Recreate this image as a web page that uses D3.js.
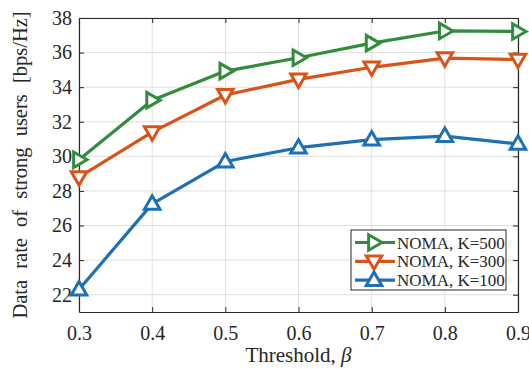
<!DOCTYPE html>
<html>
<head>
<meta charset="utf-8">
<script src="https://cdn.jsdelivr.net/npm/d3@7"></script>
<style>
  body { margin: 0; background: #fff; }
  text { font-family: "Liberation Serif", "DejaVu Serif", serif; fill: #262626; }
</style>
</head>
<body>
<div id="chart"></div>
<script>
const width = 529;
const height = 369;
const margin = { top: 18, right: 11, bottom: 57, left: 79 };

const thresholds = [0.3, 0.4, 0.5, 0.6, 0.7, 0.8, 0.9];
const rateK500 = [29.8, 33.25, 34.93, 35.7, 36.55, 37.25, 37.22];
const rateK300 = [28.8, 31.4, 33.55, 34.45, 35.15, 35.68, 35.6];
const rateK100 = [22.3, 27.25, 29.7, 30.5, 30.97, 31.17, 30.72];
const xTicks = [0.3, 0.4, 0.5, 0.6, 0.7, 0.8, 0.9];
const yTicks = [22, 24, 26, 28, 30, 32, 34, 36, 38];

const series = [
  { name: "NOMA, K=500", values: rateK500, color: "#318c3c", marker: "right" },
  { name: "NOMA, K=300", values: rateK300, color: "#d95319", marker: "down" },
  { name: "NOMA, K=100", values: rateK100, color: "#1f6fb4", marker: "up" },
];

const svg = d3.select("#chart").append("svg")
  .attr("width", width).attr("height", height);

const x = d3.scaleLinear().domain([0.3, 0.9])
  .range([margin.left, width - margin.right]);
const y = d3.scaleLinear().domain([21, 38])
  .range([height - margin.bottom, margin.top]);

// grid
svg.append("g").selectAll("line").data(xTicks).join("line")
  .attr("x1", d => x(d)).attr("x2", d => x(d))
  .attr("y1", y(21)).attr("y2", y(38))
  .attr("stroke", "#dfdfdf").attr("stroke-width", 1);
svg.append("g").selectAll("line").data(yTicks).join("line")
  .attr("x1", x(0.3)).attr("x2", x(0.9))
  .attr("y1", d => y(d)).attr("y2", d => y(d))
  .attr("stroke", "#dfdfdf").attr("stroke-width", 1);

// axes with inward ticks on all sides
const tick = 5;
const fmt = d3.format(".1f");
const axB = svg.append("g").attr("transform", `translate(0,${y(21)})`)
  .call(d3.axisBottom(x).tickValues(xTicks).tickFormat(fmt).tickSizeInner(-tick).tickSizeOuter(0).tickPadding(14));
const axT = svg.append("g").attr("transform", `translate(0,${y(38)})`)
  .call(d3.axisTop(x).tickValues(xTicks).tickFormat("").tickSizeInner(-tick).tickSizeOuter(0));
const axL = svg.append("g").attr("transform", `translate(${x(0.3)},0)`)
  .call(d3.axisLeft(y).tickValues(yTicks).tickSizeInner(-tick).tickSizeOuter(0).tickPadding(7));
const axR = svg.append("g").attr("transform", `translate(${x(0.9)},0)`)
  .call(d3.axisRight(y).tickValues(yTicks).tickFormat("").tickSizeInner(-tick).tickSizeOuter(0));
[axB, axT, axL, axR].forEach(a => {
  a.select(".domain").attr("stroke", "#262626").attr("stroke-width", 1.2);
  a.selectAll(".tick line").attr("stroke", "#262626").attr("stroke-width", 1);
  a.selectAll("text").style("font-size", "20px").attr("fill", "#262626")
    .style("font-family", "Liberation Serif, serif");
});

// marker shapes
function tri(dir, s) {
  const h = s * 0.866;
  if (dir === "up") return `M0,${-h * 0.6}L${s / 2},${h * 0.4}L${-s / 2},${h * 0.4}Z`;
  if (dir === "down") return `M0,${h * 0.6}L${s / 2},${-h * 0.4}L${-s / 2},${-h * 0.4}Z`;
  return `M${h * 0.6},0L${-h * 0.4},${s / 2}L${-h * 0.4},${-s / 2}Z`;
}

const line = d3.line().x((d, i) => x(thresholds[i])).y(d => y(d));

series.forEach(s => {
  svg.append("path").datum(s.values)
    .attr("d", line).attr("fill", "none")
    .attr("stroke", s.color).attr("stroke-width", 3.2).attr("stroke-linejoin", "round");
  svg.append("g").selectAll("path").data(s.values).join("path")
    .attr("transform", (d, i) => `translate(${x(thresholds[i])},${y(d)})`)
    .attr("d", tri(s.marker, 15.5))
    .attr("fill", "#fff").attr("stroke", s.color).attr("stroke-width", 3)
    .attr("stroke-linejoin", "miter");
});

// legend
const lg = svg.append("g").attr("transform", "translate(351,230)");
lg.append("rect").attr("width", 155).attr("height", 60)
  .attr("fill", "#fff").attr("stroke", "#262626").attr("stroke-width", 1);
series.forEach((s, i) => {
  const ry = 12.5 + i * 18.8;
  lg.append("line").attr("x1", 4).attr("x2", 44).attr("y1", ry).attr("y2", ry)
    .attr("stroke", s.color).attr("stroke-width", 3.2);
  lg.append("path").attr("transform", `translate(23,${ry})`)
    .attr("d", tri(s.marker, 15.5))
    .attr("fill", "#fff").attr("stroke", s.color).attr("stroke-width", 3);
  lg.append("text").attr("x", 46).attr("y", ry + 6)
    .style("font-size", "17px").text(s.name);
});

// axis labels
svg.append("text")
  .attr("x", (x(0.3) + x(0.9)) / 2).attr("y", 362)
  .attr("text-anchor", "middle").style("font-size", "21px")
  .html('Threshold, <tspan font-style="italic">β</tspan>');

svg.append("text")
  .attr("transform", `translate(27,${(y(21) + y(38)) / 2}) rotate(-90)`)
  .attr("text-anchor", "middle").style("font-size", "20.5px")
  .style("word-spacing", "6px")
  .text("Data rate of strong users [bps/Hz]");
</script>
</body>
</html>
